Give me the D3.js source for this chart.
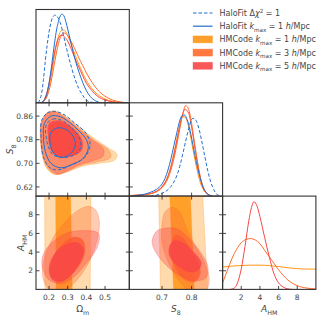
<!DOCTYPE html>
<html><head><meta charset="utf-8">
<script src="https://cdn.jsdelivr.net/npm/d3@7"></script>
<style>
body{margin:0;background:#fff}
svg{display:block}
text{font-family:"DejaVu Sans",sans-serif;fill:#444}
</style>
</head><body>
<svg id="c" width="325" height="325"></svg>
<script>
// ---------------- DATA ----------------
const omTicks = [0.2, 0.3, 0.4, 0.5];
const omTickLabels = ["0.2", "0.3", "0.4", "0.5"];
const s8TicksY = [0.62, 0.70, 0.78, 0.86];
const s8TickLabelsY = ["0.62", "0.70", "0.78", "0.86"];
const s8TicksX = [0.7, 0.8];
const s8TickLabelsX = ["0.7", "0.8"];
const aTicks = [2, 4, 6, 8];
const aTickLabels = ["2", "4", "6", "8"];

const omDomain = [0.13, 0.63];
const s8Domain = [0.589, 0.905];
const aDomain = [0, 10];

// 1D marginals: [value, relative density]
const om_hfDashed = [[0.14,0],[0.15,0.03],[0.16,0.10],[0.17,0.25],[0.18,0.45],[0.19,0.62],[0.20,0.76],[0.21,0.86],[0.22,0.92],[0.232,0.94],[0.245,0.92],[0.26,0.86],[0.28,0.70],[0.30,0.53],[0.32,0.38],[0.34,0.25],[0.36,0.15],[0.38,0.08],[0.40,0.03],[0.43,0.005],[0.46,0]];
const om_hfSolid = [[0.155,0],[0.17,0.02],[0.18,0.05],[0.19,0.11],[0.20,0.21],[0.21,0.34],[0.22,0.50],[0.23,0.65],[0.24,0.78],[0.25,0.87],[0.26,0.93],[0.27,0.95],[0.28,0.93],[0.29,0.87],[0.30,0.79],[0.32,0.62],[0.34,0.46],[0.36,0.33],[0.38,0.22],[0.40,0.13],[0.42,0.07],[0.45,0.02],[0.48,0]];
const om_k1 = [[0.155,0],[0.17,0.02],[0.18,0.05],[0.19,0.10],[0.20,0.17],[0.21,0.27],[0.22,0.39],[0.23,0.52],[0.24,0.63],[0.25,0.71],[0.26,0.76],[0.275,0.78],[0.29,0.76],[0.30,0.72],[0.32,0.62],[0.34,0.51],[0.36,0.41],[0.38,0.32],[0.40,0.24],[0.43,0.15],[0.46,0.09],[0.50,0.04],[0.54,0.015],[0.58,0.004],[0.62,0]];
const om_k3 = [[0.16,0],[0.175,0.02],[0.185,0.05],[0.195,0.10],[0.205,0.17],[0.215,0.27],[0.225,0.38],[0.235,0.49],[0.245,0.59],[0.255,0.67],[0.265,0.72],[0.278,0.75],[0.29,0.74],[0.30,0.72],[0.32,0.65],[0.34,0.57],[0.36,0.48],[0.38,0.40],[0.40,0.32],[0.43,0.22],[0.46,0.14],[0.50,0.07],[0.54,0.03],[0.58,0.01],[0.62,0]];
const om_k5 = [[0.155,0],[0.17,0.02],[0.18,0.06],[0.19,0.12],[0.20,0.21],[0.21,0.32],[0.22,0.44],[0.23,0.55],[0.24,0.63],[0.25,0.69],[0.263,0.725],[0.275,0.72],[0.29,0.69],[0.30,0.66],[0.32,0.57],[0.34,0.47],[0.36,0.38],[0.38,0.29],[0.40,0.21],[0.43,0.13],[0.46,0.07],[0.50,0.03],[0.54,0.01],[0.58,0.002],[0.62,0]];

const s8_hfSolid = [[0.60,0],[0.62,0.01],[0.64,0.02],[0.66,0.04],[0.68,0.07],[0.70,0.13],[0.71,0.19],[0.72,0.28],[0.73,0.40],[0.74,0.54],[0.75,0.68],[0.76,0.81],[0.767,0.86],[0.775,0.87],[0.785,0.82],[0.795,0.70],[0.805,0.54],[0.815,0.38],[0.825,0.24],[0.835,0.13],[0.845,0.06],[0.855,0.02],[0.87,0]];
const s8_hfDashed = [[0.66,0],[0.68,0.01],[0.70,0.03],[0.72,0.07],[0.74,0.15],[0.75,0.22],[0.76,0.32],[0.77,0.45],[0.78,0.59],[0.79,0.72],[0.80,0.82],[0.805,0.835],[0.815,0.81],[0.825,0.72],[0.835,0.58],[0.845,0.42],[0.855,0.27],[0.865,0.15],[0.875,0.07],[0.885,0.02],[0.90,0]];
const s8_k1 = [[0.59,0.005],[0.62,0.01],[0.65,0.02],[0.68,0.05],[0.70,0.10],[0.72,0.22],[0.73,0.32],[0.74,0.46],[0.75,0.61],[0.76,0.76],[0.77,0.85],[0.78,0.84],[0.79,0.74],[0.80,0.58],[0.81,0.41],[0.82,0.26],[0.83,0.14],[0.84,0.07],[0.855,0.02],[0.87,0]];
const s8_k3 = [[0.59,0.005],[0.62,0.01],[0.65,0.02],[0.68,0.045],[0.70,0.09],[0.72,0.19],[0.73,0.28],[0.74,0.40],[0.75,0.55],[0.76,0.72],[0.77,0.88],[0.78,0.97],[0.79,0.93],[0.80,0.78],[0.81,0.57],[0.82,0.37],[0.83,0.20],[0.84,0.09],[0.855,0.02],[0.87,0]];
const s8_k5 = [[0.59,0.005],[0.62,0.01],[0.65,0.02],[0.68,0.05],[0.70,0.10],[0.72,0.21],[0.73,0.31],[0.74,0.44],[0.75,0.59],[0.76,0.75],[0.77,0.88],[0.777,0.93],[0.79,0.89],[0.80,0.74],[0.81,0.54],[0.82,0.35],[0.83,0.19],[0.84,0.08],[0.855,0.02],[0.87,0]];

const a_k1 = [[0,0.24],[1,0.25],[2,0.255],[3,0.26],[4,0.26],[5,0.255],[6,0.245],[7,0.232],[8,0.222],[9,0.218],[10,0.217]];
const a_k3 = [[0,0.07],[0.5,0.2],[1.0,0.33],[1.5,0.43],[2.0,0.50],[2.5,0.535],[3.0,0.545],[3.5,0.53],[4.0,0.49],[4.5,0.42],[5.0,0.35],[5.5,0.28],[6.0,0.21],[6.5,0.15],[7.0,0.10],[7.5,0.065],[8.0,0.04],[9.0,0.015],[10,0.005]];
const a_k5 = [[0.8,0],[1.2,0.01],[1.6,0.07],[2.0,0.22],[2.4,0.46],[2.8,0.73],[3.1,0.88],[3.36,0.94],[3.7,0.89],[4.0,0.78],[4.5,0.56],[5.0,0.35],[5.5,0.17],[6.0,0.07],[6.5,0.025],[7.0,0.005],[7.5,0]];

// 2D contours (Omega_m, S8)
const omS8_k1_95 = [[0.16,0.84],[0.19,0.87],[0.23,0.878],[0.28,0.862],[0.35,0.83],[0.43,0.79],[0.51,0.755],[0.565,0.73],[0.55,0.71],[0.47,0.70],[0.38,0.69],[0.30,0.672],[0.235,0.662],[0.19,0.68],[0.165,0.72],[0.155,0.78]];
const omS8_k1_68 = [[0.205,0.82],[0.245,0.838],[0.30,0.825],[0.345,0.795],[0.36,0.765],[0.34,0.74],[0.30,0.728],[0.255,0.725],[0.22,0.74],[0.205,0.78]];
const omS8_k3_95 = [[0.158,0.84],[0.19,0.872],[0.235,0.875],[0.29,0.856],[0.36,0.82],[0.44,0.78],[0.52,0.745],[0.53,0.72],[0.46,0.705],[0.37,0.693],[0.29,0.67],[0.235,0.662],[0.19,0.685],[0.165,0.73],[0.153,0.79]];
const omS8_k3_68 = [[0.205,0.825],[0.245,0.84],[0.30,0.828],[0.35,0.795],[0.37,0.765],[0.355,0.74],[0.31,0.727],[0.255,0.722],[0.22,0.74],[0.203,0.78]];
const omS8_k5_95 = [[0.16,0.835],[0.19,0.868],[0.235,0.872],[0.29,0.852],[0.36,0.815],[0.43,0.78],[0.49,0.75],[0.49,0.725],[0.43,0.708],[0.36,0.695],[0.29,0.672],[0.24,0.665],[0.195,0.688],[0.168,0.73],[0.155,0.79]];
const omS8_k5_68 = [[0.2,0.835],[0.245,0.845],[0.30,0.832],[0.35,0.805],[0.38,0.77],[0.37,0.74],[0.32,0.725],[0.26,0.72],[0.215,0.74],[0.195,0.79]];
const omS8_hfSolid_95 = [[0.175,0.835],[0.21,0.86],[0.26,0.858],[0.31,0.838],[0.36,0.81],[0.40,0.78],[0.41,0.75],[0.38,0.715],[0.32,0.695],[0.26,0.685],[0.21,0.70],[0.18,0.74],[0.17,0.79]];
const omS8_hfSolid_68 = [[0.21,0.805],[0.245,0.82],[0.29,0.815],[0.33,0.79],[0.34,0.76],[0.31,0.73],[0.265,0.72],[0.225,0.735],[0.205,0.77]];
const omS8_hfDashed_95 = [[0.16,0.845],[0.19,0.87],[0.23,0.876],[0.28,0.865],[0.34,0.835],[0.40,0.80],[0.42,0.76],[0.39,0.72],[0.32,0.695],[0.25,0.678],[0.205,0.685],[0.17,0.72],[0.157,0.79]];
const omS8_hfDashed_68 = [[0.185,0.83],[0.22,0.85],[0.27,0.845],[0.32,0.82],[0.36,0.79],[0.37,0.755],[0.34,0.73],[0.28,0.72],[0.22,0.73],[0.19,0.77]];

// 2D contours (Omega_m, A_HM)
const omA_k1_95 = [[0.178,-1],[0.176,11],[0.425,11],[0.42,-1]];
const omA_k1_68 = [[0.238,-1],[0.235,11],[0.315,11],[0.325,-1]];
const omA_k3_95 = [[0.17,1.0],[0.165,2.5],[0.19,4.2],[0.23,5.8],[0.29,7.3],[0.35,8.4],[0.41,8.9],[0.45,8.5],[0.47,7.2],[0.46,5.5],[0.43,3.6],[0.38,1.8],[0.32,0.4],[0.26,-0.2],[0.2,0.0]];
const omA_k3_68 = [[0.21,1.5],[0.22,3.2],[0.27,4.8],[0.33,5.6],[0.38,5.3],[0.39,3.8],[0.34,2.0],[0.27,0.9]];
const omA_k5_95 = [[0.161,2.9],[0.175,4.0],[0.22,5.1],[0.29,6.0],[0.38,6.3],[0.465,6.0],[0.46,4.6],[0.40,2.8],[0.33,1.3],[0.26,0.6],[0.19,1.2]];
const omA_k5_68 = [[0.20,1.9],[0.21,3.1],[0.25,4.3],[0.30,4.9],[0.355,5.0],[0.385,4.3],[0.37,3.1],[0.32,1.6],[0.26,0.8],[0.22,1.0]];

// 2D contours (S8, A_HM)
const s8A_k1_95 = [[0.695,-1],[0.688,11],[0.836,11],[0.856,-1]];
const s8A_k1_68 = [[0.74,-1],[0.725,11],[0.795,11],[0.81,-1]];
const s8A_k3_95 = [[0.70,7.0],[0.71,8.3],[0.735,8.8],[0.76,8.3],[0.78,6.8],[0.81,4.8],[0.845,2.8],[0.86,1.0],[0.845,-0.3],[0.80,-0.3],[0.76,0.8],[0.72,3.0],[0.70,5.0]];
const s8A_k3_68 = [[0.73,4.5],[0.745,5.8],[0.77,5.5],[0.81,3.5],[0.83,1.8],[0.81,0.8],[0.77,1.2],[0.74,2.8]];
const s8A_k5_95 = [[0.666,5.1],[0.68,6.2],[0.70,6.5],[0.75,6.5],[0.79,5.5],[0.83,4.0],[0.855,2.5],[0.85,1.3],[0.815,0.9],[0.77,1.3],[0.72,2.4],[0.68,3.9]];
const s8A_k5_68 = [[0.725,4.6],[0.74,5.2],[0.77,5.0],[0.81,3.9],[0.833,2.8],[0.82,2.0],[0.79,1.9],[0.75,2.6],[0.725,3.6]];

const colHF = "#1f6fd1";
const colK1 = "#ff9514";
const colK3 = "#ff6a2b";
const colK5 = "#f84646";

const legendLabels = [
  [["HaloFit Δ"],["χ","i"],["2","sup"],[" = 1"]],
  [["HaloFit "],["k","i"],["max","sub"],[" = 1 "],["h","i"],["/Mpc"]],
  [["HMCode "],["k","i"],["max","sub"],[" = 1 "],["h","i"],["/Mpc"]],
  [["HMCode "],["k","i"],["max","sub"],[" = 3 "],["h","i"],["/Mpc"]],
  [["HMCode "],["k","i"],["max","sub"],[" = 5 "],["h","i"],["/Mpc"]]
];
const axisLabels = [
  [["Ω"],["m","sub"]],
  [["S","i"],["8","sub"]],
  [["A","i"],["HM","sub"]]
];

// ---------------- LAYOUT ----------------
const L = 36, T = 9.5, S = 93.3, TK = 3.5;
const svg = d3.select("#c");

const xs = [
  d3.scaleLinear().domain(omDomain).range([0, S]),
  d3.scaleLinear().domain(s8Domain).range([0, S]),
  d3.scaleLinear().domain(aDomain).range([0, S])
];
const ys = [
  null,
  d3.scaleLinear().domain(s8Domain).range([S, 0]),
  d3.scaleLinear().domain(aDomain).range([S, 0])
];
const dens = d3.scaleLinear().domain([0, 1]).range([S, 0]);
const xTicks = [[omTicks, omTickLabels], [s8TicksX, s8TickLabelsX], [aTicks, aTickLabels]];
const yTicks = [null, [s8TicksY, s8TickLabelsY], [aTicks, aTickLabels]];

function rich(sel, parts, size) {
  let shift = 0;
  parts.forEach(([t, st]) => {
    const target = st === "sub" ? size * 0.3 : st === "sup" ? -size * 0.4 : 0;
    const ts = sel.append("tspan").text(t);
    if (target - shift !== 0) ts.attr("dy", target - shift);
    shift = target;
    if (st === "i") ts.attr("font-style", "italic");
    if (st === "sub" || st === "sup") ts.attr("font-size", size * 0.7);
  });
}

const defs = svg.append("defs");
function panel(r, c) {
  const id = "clip" + r + c;
  defs.append("clipPath").attr("id", id).append("rect").attr("width", S).attr("height", S);
  const g = svg.append("g").attr("transform", `translate(${L + c * S},${T + r * S})`);
  const inner = g.append("g").attr("clip-path", `url(#${id})`);
  return [g, inner];
}

const panels = {};
for (let r = 0; r < 3; r++) for (let c = 0; c <= r; c++) panels[r + "" + c] = panel(r, c);

// 1D curves
const oneD = [
  [0, om_k1, colK1, null], [0, om_k3, colK3, null], [0, om_k5, colK5, null],
  [0, om_hfDashed, colHF, "3.5,2"], [0, om_hfSolid, colHF, null],
  [1, s8_k1, colK1, null], [1, s8_k5, colK5, null], [1, s8_k3, colK3, null],
  [1, s8_hfDashed, colHF, "3.5,2"], [1, s8_hfSolid, colHF, null],
  [2, a_k1, colK1, null], [2, a_k3, colK3, null], [2, a_k5, colK5, null]
];
oneD.forEach(([i, data, col, dash]) => {
  const line = d3.line().x(d => xs[i](d[0])).y(d => dens(d[1])).curve(d3.curveMonotoneX);
  panels[i + "" + i][1].append("path").attr("d", line(data)).attr("fill", "none")
    .attr("stroke", col).attr("stroke-width", 1.0).attr("stroke-dasharray", dash);
});

// 2D filled contours
const filled = [
  ["10", omS8_k1_95, colK1, 95, false], ["10", omS8_k1_68, colK1, 68, false],
  ["10", omS8_k3_95, colK3, 95, false], ["10", omS8_k3_68, colK3, 68, false],
  ["10", omS8_k5_95, colK5, 95, false], ["10", omS8_k5_68, colK5, 68, false],
  ["20", omA_k1_95, colK1, 95, true], ["20", omA_k1_68, colK1, 68, true],
  ["20", omA_k3_95, colK3, 95, false], ["20", omA_k3_68, colK3, 68, false],
  ["20", omA_k5_95, colK5, 95, false], ["20", omA_k5_68, colK5, 68, false],
  ["21", s8A_k1_95, colK1, 95, true], ["21", s8A_k1_68, colK1, 68, true],
  ["21", s8A_k3_95, colK3, 95, false], ["21", s8A_k3_68, colK3, 68, false],
  ["21", s8A_k5_95, colK5, 95, false], ["21", s8A_k5_68, colK5, 68, false]
];
filled.forEach(([p, data, col, lev, band]) => {
  const c = +p[1], r = +p[0];
  const line = d3.line().x(d => xs[c](d[0])).y(d => ys[r](d[1]))
    .curve(band ? d3.curveLinearClosed : d3.curveCatmullRomClosed.alpha(0.5));
  panels[p][1].append("path").attr("d", line(data))
    .attr("fill", col).attr("fill-opacity", lev === 95 ? 0.35 : 0.85)
    .attr("stroke", col).attr("stroke-opacity", 0.45).attr("stroke-width", 0.6);
});

// HaloFit line contours
const lines2D = [
  [omS8_hfDashed_95, "3.5,2"], [omS8_hfDashed_68, "3.5,2"],
  [omS8_hfSolid_95, null], [omS8_hfSolid_68, null]
];
lines2D.forEach(([data, dash]) => {
  const line = d3.line().x(d => xs[0](d[0])).y(d => ys[1](d[1])).curve(d3.curveCatmullRomClosed.alpha(0.5));
  panels["10"][1].append("path").attr("d", line(data)).attr("fill", "none")
    .attr("stroke", colHF).attr("stroke-width", 1.0).attr("stroke-dasharray", dash);
});

// Frames, ticks, labels
for (let r = 0; r < 3; r++) for (let c = 0; c <= r; c++) {
  const g = panels[r + "" + c][0];
  const [xt, xl] = xTicks[c];
  xt.forEach(v => {
    const x = xs[c](v);
    g.append("line").attr("x1", x).attr("x2", x).attr("y1", S).attr("y2", S - TK).attr("stroke", "#333").attr("stroke-width", 0.9);
    if (r !== c) g.append("line").attr("x1", x).attr("x2", x).attr("y1", 0).attr("y2", TK).attr("stroke", "#333").attr("stroke-width", 0.9);
  });
  if (r > 0) {
    const [yt] = yTicks[r];
    yt.forEach(v => {
      const y = ys[r](v);
      g.append("line").attr("x1", 0).attr("x2", TK).attr("y1", y).attr("y2", y).attr("stroke", "#333").attr("stroke-width", 0.9);
      if (r !== c) g.append("line").attr("x1", S).attr("x2", S - TK).attr("y1", y).attr("y2", y).attr("stroke", "#333").attr("stroke-width", 0.9);
    });
  }
  g.append("rect").attr("width", S).attr("height", S).attr("fill", "none").attr("stroke", "#333").attr("stroke-width", 1.1);

  if (r === 2) {
    xt.forEach((v, i) => {
      g.append("text").attr("x", xs[c](v)).attr("y", S + 10.5).attr("text-anchor", "middle")
        .attr("font-size", 7.5).text(xl[i]);
    });
    const t = g.append("text").attr("x", S / 2).attr("y", S + 23).attr("text-anchor", "middle").attr("font-size", 9);
    rich(t, axisLabels[c], 9);
  }
  if (c === 0 && r > 0) {
    const [yt, yl] = yTicks[r];
    yt.forEach((v, i) => {
      g.append("text").attr("x", -3).attr("y", ys[r](v) + 2.7).attr("text-anchor", "end")
        .attr("font-size", 7.5).text(yl[i]);
    });
    const lx = r === 1 ? -23 : -12;
    const t = g.append("text").attr("transform", `translate(${lx},${S / 2}) rotate(-90)`)
      .attr("text-anchor", "middle").attr("font-size", 9);
    rich(t, axisLabels[r], 9);
  }
}

// Legend
const lg = svg.append("g");
const legendStyles = [
  ["line", colHF, "3.5,2"], ["line", colHF, null],
  ["patch", colK1], ["patch", colK3], ["patch", colK5]
];
legendStyles.forEach((st, i) => {
  const yc = 13 + i * 13.2;
  if (st[0] === "line") {
    lg.append("line").attr("x1", 193).attr("x2", 212.5).attr("y1", yc).attr("y2", yc)
      .attr("stroke", st[1]).attr("stroke-width", 1.2).attr("stroke-dasharray", st[2]);
  } else {
    lg.append("rect").attr("x", 193).attr("y", yc - 3.5).attr("width", 19.5).attr("height", 7)
      .attr("fill", st[1]).attr("fill-opacity", 0.9).attr("stroke", st[1]).attr("stroke-opacity", 0.4).attr("stroke-width", 0.8);
  }
  const t = lg.append("text").attr("x", 219.5).attr("y", yc + 2.9).attr("font-size", 8).attr("fill", "#444");
  rich(t, legendLabels[i], 8);
});
</script>
</body></html>
